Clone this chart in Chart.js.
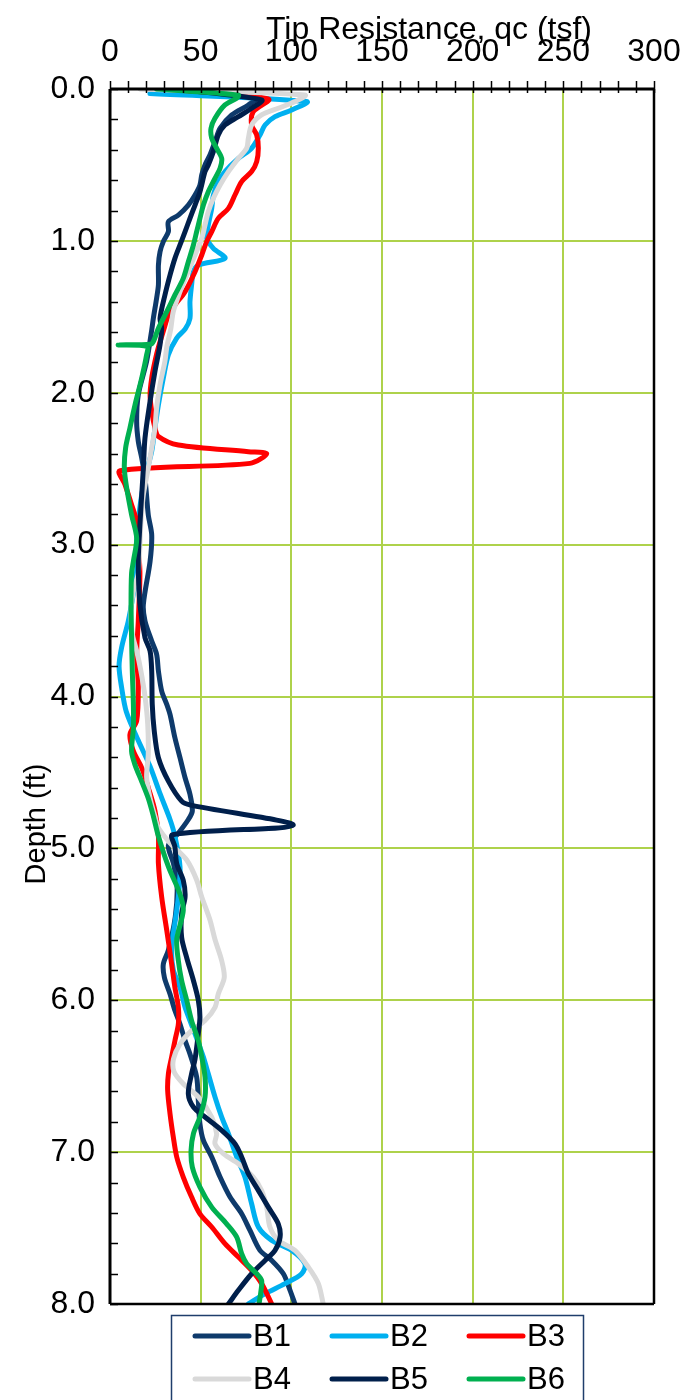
<!DOCTYPE html>
<html>
<head>
<meta charset="utf-8">
<script src="https://cdn.jsdelivr.net/npm/chart.js@4.4.0/dist/chart.umd.min.js"></script>
<style>
html,body{margin:0;padding:0;background:#fff;}
#wrap{width:685px;height:1400px;position:relative;}
</style>
</head>
<body>
<div id="wrap"><canvas id="c" width="685" height="1400"></canvas></div>
<script>
// ---- data: [qc (tsf), depth (ft)] ----
const B1 = [[30,0.0],[81.8,0.05],[76.3,0.105],[67.1,0.171],[60.7,0.259],[57.9,0.347],[55.1,0.435],[52.4,0.5],[50.6,0.566],[49.6,0.632],[46.9,0.698],[43.2,0.764],[37.7,0.83],[32.2,0.874],[32.2,0.939],[29.4,1.005],[27.6,1.071],[26.7,1.159],[26.7,1.29],[25.7,1.378],[23.9,1.51],[23.0,1.587],[20.2,1.793],[15.6,2.013],[14.7,2.188],[15.6,2.32],[17.5,2.43],[19.3,2.562],[21.1,2.803],[23.0,2.935],[22.1,3.11],[18.4,3.393],[19.3,3.503],[23.0,3.635],[25.7,3.722],[26.7,3.832],[28.5,3.964],[31.3,4.052],[33.1,4.118],[35.8,4.272],[38.6,4.403],[41.4,4.535],[44.1,4.644],[45.4,4.754],[43.2,4.81],[37.7,4.9],[32.2,4.98],[35,5.1],[37,5.25],[36,5.45],[32.2,5.67],[29.4,5.762],[30.0,5.85],[33.1,5.959],[35.8,6.068],[38.6,6.156],[41.4,6.266],[44.1,6.354],[47.8,6.506],[48.7,6.66],[49.6,6.813],[51.5,6.923],[56.1,7.032],[60.7,7.164],[66.2,7.296],[72.6,7.406],[77.2,7.516],[82.7,7.647],[89.2,7.713],[95.6,7.801],[99.3,7.91],[102.0,8.0]];
const B2 = [[22,0.03],[108.5,0.083],[100.2,0.138],[91.0,0.182],[85.5,0.237],[82.7,0.303],[78.1,0.39],[70.8,0.457],[63.4,0.544],[59.7,0.61],[57.0,0.698],[56.1,0.786],[54.2,0.896],[53.3,0.983],[57.0,1.049],[63.4,1.115],[48.7,1.159],[46.0,1.203],[45.0,1.29],[44.1,1.4],[44.1,1.51],[41.5,1.58],[36.8,1.64],[32.2,1.75],[29.4,1.903],[26.7,2.079],[24.8,2.232],[23.0,2.386],[20.2,2.518],[17.5,2.671],[15.6,2.847],[14.7,3.0],[14.7,3.174],[12.5,3.35],[10.1,3.503],[6.4,3.677],[5.0,3.8],[6.4,3.94],[9.0,4.1],[15.6,4.29],[22.1,4.46],[27.6,4.64],[33.1,4.81],[35.8,4.92],[38.6,5.12],[37.7,5.32],[35.8,5.49],[34.0,5.65],[34.9,5.8],[38.6,5.916],[41.4,6.047],[44.1,6.134],[46.9,6.222],[49.6,6.31],[51.5,6.374],[54.2,6.484],[57.9,6.637],[61.6,6.769],[65.3,6.879],[69.9,7.032],[74.4,7.164],[78.1,7.34],[81.8,7.493],[89.2,7.581],[100.2,7.647],[107.5,7.735],[105.7,7.801],[96.5,7.866],[85.5,7.932],[76.3,8.0]];
const B3 = [[30,0.0],[87.3,0.066],[79.0,0.149],[78.1,0.237],[80.9,0.303],[81.8,0.39],[80.9,0.478],[78.1,0.544],[72.6,0.61],[68.9,0.698],[65.3,0.786],[59.7,0.852],[56.1,0.939],[53.3,1.005],[50.6,1.093],[46.9,1.203],[41.4,1.334],[35.8,1.422],[32.2,1.49],[29.5,1.59],[26.7,1.7],[24.8,1.793],[23.0,1.903],[22.1,2.013],[23.0,2.123],[24.8,2.232],[26.7,2.288],[37.7,2.344],[76.3,2.388],[86.4,2.401],[77.2,2.465],[5.5,2.513],[8.3,2.605],[11.9,2.737],[14.7,2.847],[15.6,3.0],[16.5,3.187],[15.6,3.503],[14.7,3.72],[15.6,3.94],[14.7,4.16],[11.0,4.25],[12.9,4.36],[17.5,4.47],[21.1,4.6],[24.8,4.754],[26.7,4.92],[26.7,5.1],[28.5,5.32],[31.3,5.54],[34.0,5.762],[35.8,5.916],[37.7,6.047],[37.7,6.156],[35.8,6.266],[34.0,6.374],[32.2,6.484],[31.8,6.594],[33.1,6.747],[34.9,6.9],[36.8,7.032],[40.4,7.164],[45.0,7.296],[49.6,7.406],[56.1,7.493],[63.4,7.603],[70.8,7.691],[78.1,7.779],[83.6,7.866],[89.2,8.0]];
const B4 = [[16.5,0.0],[107.5,0.04],[102.0,0.083],[92.8,0.127],[83.6,0.171],[78.1,0.237],[76.3,0.325],[75.4,0.39],[70.8,0.457],[65.3,0.544],[60.7,0.632],[57.0,0.72],[54.2,0.808],[52.4,0.896],[50.6,0.983],[46.9,1.093],[42.3,1.225],[38.6,1.334],[34.9,1.466],[33.5,1.58],[31.3,1.7],[30.3,1.793],[27.6,1.947],[25.7,2.1],[24.8,2.232],[23.0,2.364],[21.1,2.496],[18.4,2.671],[17.1,2.847],[16.5,3.0],[15.6,3.187],[13.0,3.3],[11.5,3.45],[12.5,3.6],[14.7,3.7],[17.0,3.83],[19.3,4.0],[20.8,4.18],[21.1,4.38],[20.2,4.53],[22.1,4.67],[24.8,4.79],[26.5,4.86],[33.1,4.965],[42.3,5.077],[47.8,5.208],[50.6,5.32],[55.1,5.47],[57.9,5.6],[61.6,5.74],[63.0,5.85],[59.7,5.959],[57.9,6.047],[52.4,6.134],[45.0,6.2],[38.6,6.288],[35.0,6.387],[35.3,6.47],[40.4,6.55],[48.7,6.637],[56.1,6.769],[58.8,6.879],[57.9,6.945],[62.5,7.01],[70.8,7.076],[79.0,7.164],[83.6,7.252],[86.4,7.362],[88.2,7.493],[92.8,7.581],[102.0,7.647],[109.4,7.757],[114.9,7.866],[117.6,8.0]];
const B5 = [[35,0.0],[83.6,0.072],[78.1,0.127],[70.8,0.182],[63.4,0.237],[59.7,0.303],[57.0,0.413],[54.2,0.5],[52.4,0.544],[49.6,0.676],[46.9,0.764],[44.1,0.852],[41.4,0.939],[38.6,1.027],[35.8,1.115],[33.1,1.225],[30.3,1.356],[27.6,1.51],[28.5,1.574],[27.6,1.683],[24.8,1.859],[22.1,2.057],[19.3,2.298],[18.4,2.496],[17.5,2.671],[16.5,2.869],[15.6,3.11],[16.5,3.393],[19.3,3.613],[22.1,3.7],[23.0,3.832],[23.3,4.052],[24.4,4.227],[26.7,4.403],[32.2,4.557],[39.5,4.689],[44.5,4.715],[101,4.848],[34.5,4.91],[35.8,4.99],[36.8,5.1],[40.4,5.21],[41.4,5.32],[39.5,5.43],[39.5,5.586],[42.3,5.72],[46.0,5.87],[48.7,6.0],[49.6,6.11],[48.7,6.22],[46.9,6.387],[45.0,6.484],[43.2,6.616],[46.0,6.703],[52.4,6.769],[61.6,6.857],[68.9,6.945],[72.6,7.032],[76.3,7.142],[81.8,7.252],[87.3,7.362],[92.8,7.472],[93.8,7.56],[91.0,7.647],[85.5,7.713],[78.1,7.801],[70.8,7.91],[65.3,8.0]];
const B6 = [[25.7,0.0],[70.8,0.04],[69.9,0.06],[63.4,0.105],[57.9,0.193],[55.7,0.259],[56.1,0.325],[58.8,0.39],[61.6,0.457],[60.7,0.522],[57.9,0.588],[54.2,0.676],[51.5,0.764],[49.6,0.852],[47.8,0.939],[46.0,1.027],[43.2,1.137],[40.4,1.247],[35.8,1.356],[31.3,1.466],[26.7,1.576],[24.0,1.66],[22.5,1.68],[4.5,1.685],[20.5,1.695],[20.2,1.75],[17.5,1.903],[13.8,2.079],[11.0,2.232],[8.6,2.364],[7.9,2.496],[9.2,2.627],[11.9,2.803],[14.7,2.957],[12.9,3.11],[11.9,3.187],[11.6,3.393],[11.9,3.613],[12.3,3.832],[12.9,4.052],[12.9,4.205],[11.9,4.36],[13.8,4.45],[17.5,4.56],[21.1,4.67],[23.9,4.787],[26.7,4.92],[32.2,5.12],[38.6,5.3],[40.4,5.41],[36.8,5.6],[37.7,5.74],[39.5,5.87],[42.3,6.0],[45.0,6.134],[48.7,6.266],[50.6,6.374],[52.4,6.506],[52.4,6.637],[49.6,6.769],[46.0,6.879],[44.7,6.989],[45.4,7.099],[49.6,7.23],[56.1,7.362],[64.3,7.472],[69.9,7.56],[72.6,7.669],[75.4,7.735],[80.9,7.801],[83.6,7.845],[83.3,7.91],[82.2,8.0]];

const seriesNames  = ['B1','B2','B3','B4','B5','B6'];
const seriesData   = [B1, B2, B3, B4, B5, B6];
const seriesColors = ['#0E3A6B','#00B0F0','#FF0000','#D9D9D9','#001F4B','#00B050'];

const qcMajorTicks    = [0, 50, 100, 150, 200, 250, 300];
const depthMajorTicks = [0, 1, 2, 3, 4, 5, 6, 7, 8];
const xTitle = 'Tip Resistance, qc (tsf)';
const yTitle = 'Depth (ft)';

const FONT = '"Liberation Sans", Arial, sans-serif';
const GRID = '#AED24B';

const isMajorX = v => qcMajorTicks.some(t => Math.abs(t - v) < 1e-6);
const isMajorY = v => depthMajorTicks.some(t => Math.abs(t - v) < 1e-6);

const datasets = seriesData.map((pts, i) => ({
  label: seriesNames[i],
  data: pts.map(p => ({x: p[0], y: p[1]})),
  showLine: true,
  borderColor: seriesColors[i],
  backgroundColor: seriesColors[i],
  borderWidth: 5,
  pointRadius: 0,
  tension: 0.3,
  borderCapStyle: 'round',
  borderJoinStyle: 'round',
  order: seriesNames.length - i
}));

const framePlugin = {
  id: 'frame',
  afterDatasetsDraw(chart) {
    const {ctx, chartArea: a, scales: {x, y}} = chart;
    ctx.save();
    ctx.strokeStyle = '#000';
    ctx.lineWidth = 1.5;
    for (let v = 0; v <= 300; v += 10) {
      const px = Math.round(x.getPixelForValue(v)) + 0.5;
      ctx.beginPath(); ctx.moveTo(px, a.top - 8); ctx.lineTo(px, a.top + 4); ctx.stroke();
    }
    for (let k = 0; k <= 40; k++) {
      const v = k * 0.2;
      const py = Math.round(y.getPixelForValue(v)) + 0.5;
      ctx.beginPath(); ctx.moveTo(a.left, py); ctx.lineTo(a.left + 8, py); ctx.stroke();
    }
    ctx.lineWidth = 3;
    ctx.beginPath(); ctx.moveTo(a.left, a.top); ctx.lineTo(a.left, a.bottom); ctx.stroke();
    ctx.beginPath(); ctx.moveTo(a.left, a.top); ctx.lineTo(a.right, a.top); ctx.stroke();
    ctx.lineWidth = 2.5;
    ctx.beginPath(); ctx.moveTo(a.right, a.top); ctx.lineTo(a.right, a.bottom); ctx.stroke();
    ctx.beginPath(); ctx.moveTo(a.left, a.bottom); ctx.lineTo(a.right, a.bottom); ctx.stroke();
    ctx.restore();
  },
  afterDraw(chart) {
    const {ctx} = chart;
    ctx.save();
    ctx.fillStyle = '#000';
    ctx.font = '32px ' + FONT;
    ctx.textAlign = 'center';
    ctx.textBaseline = 'middle';
    ctx.fillText(xTitle, 429, 30);
    ctx.save();
    ctx.translate(37, 824);
    ctx.rotate(-Math.PI / 2);
    ctx.font = '29px ' + FONT;
    ctx.fillText(yTitle, 0, 0);
    ctx.restore();
    const box = {l: 171, t: 1315, r: 583};
    ctx.fillStyle = '#fff';
    ctx.fillRect(box.l, box.t, box.r - box.l, 100);
    ctx.strokeStyle = '#1F3D6B';
    ctx.lineWidth = 1.5;
    ctx.strokeRect(box.l + 0.5, box.t + 0.5, box.r - box.l, 110);
    const colX = [195, 332, 469];
    const rowY = [1336, 1379];
    ctx.font = '31px ' + FONT;
    ctx.textAlign = 'left';
    ctx.textBaseline = 'middle';
    chart.data.datasets.forEach((ds, i) => {
      const cx = colX[i % 3], cy = rowY[Math.floor(i / 3)];
      ctx.strokeStyle = ds.borderColor;
      ctx.lineWidth = 5;
      ctx.lineCap = 'round';
      ctx.beginPath(); ctx.moveTo(cx, cy); ctx.lineTo(cx + 54, cy); ctx.stroke();
      ctx.fillStyle = '#000';
      ctx.fillText(ds.label, cx + 58, cy + 1);
    });
    ctx.restore();
  }
};

new Chart(document.getElementById('c').getContext('2d'), {
  type: 'scatter',
  data: {datasets},
  options: {
    responsive: false,
    animation: false,
    devicePixelRatio: 1,
    layout: {padding: {left: 0, right: 31, top: 0, bottom: 96}},
    plugins: {legend: {display: false}, tooltip: {enabled: false}},
    scales: {
      x: {
        type: 'linear', position: 'top', min: 0, max: 300,
        ticks: {
          stepSize: 10, autoSkip: false, maxRotation: 0, padding: 18,
          color: '#000', font: {family: FONT, size: 32},
          callback: v => isMajorX(v) ? String(v) : ''
        },
        grid: {
          drawTicks: false, lineWidth: 2,
          color: c => (c.tick && isMajorX(c.tick.value) && c.tick.value > 0 && c.tick.value < 300) ? GRID : 'rgba(0,0,0,0)'
        },
        border: {display: false},
        afterFit: s => { s.height = 89; s.paddingLeft = 0; s.paddingRight = 0; }
      },
      y: {
        type: 'linear', reverse: true, min: 0, max: 8,
        ticks: {
          stepSize: 0.2, autoSkip: false, padding: 15,
          color: '#000', font: {family: FONT, size: 32},
          callback: v => isMajorY(v) ? Number(v).toFixed(1) : ''
        },
        grid: {
          drawTicks: false, lineWidth: 2,
          color: c => (c.tick && isMajorY(c.tick.value) && c.tick.value > 0 && c.tick.value < 8) ? GRID : 'rgba(0,0,0,0)'
        },
        border: {display: false},
        afterFit: s => { s.width = 110; s.paddingTop = 0; s.paddingBottom = 0; }
      }
    }
  },
  plugins: [framePlugin]
});
</script>
</body>
</html>
